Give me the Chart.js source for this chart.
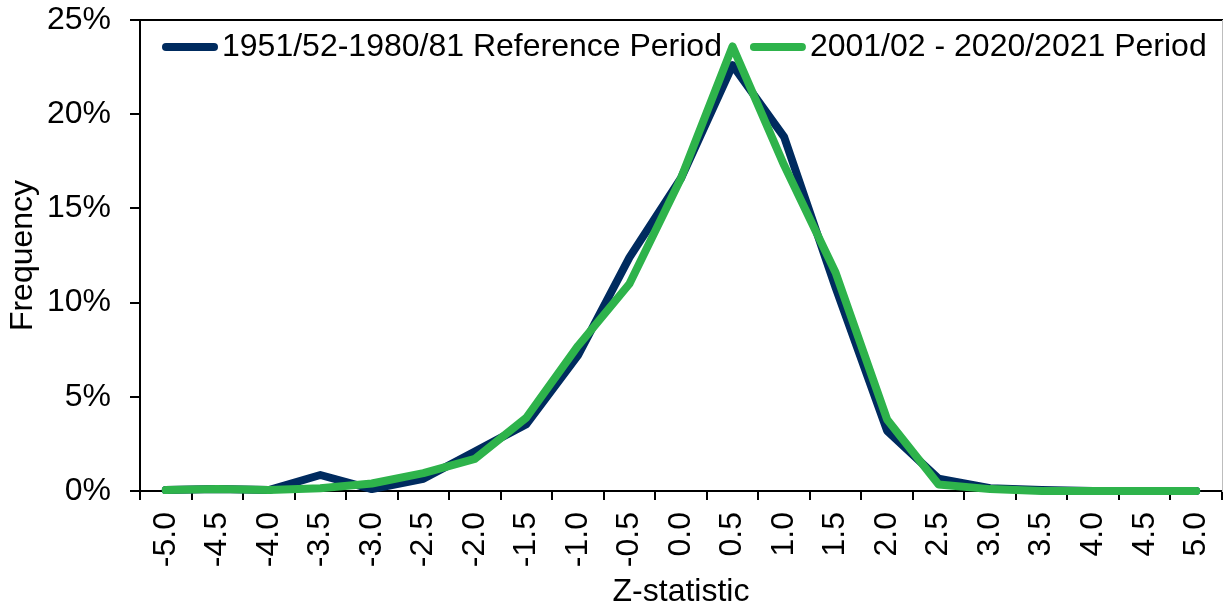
<!DOCTYPE html>
<html>
<head>
<meta charset="utf-8">
<script src="https://cdn.jsdelivr.net/npm/chart.js@4.4.1/dist/chart.umd.min.js"></script>
<style>
  html, body { margin: 0; padding: 0; background: #fff; }
  #wrap { width: 1223px; height: 611px; }
</style>
</head>
<body>
<div id="wrap"><canvas id="zChart" width="1223" height="611"></canvas></div>
<script>
// categorias do eixo x (Z-statistic)
const zLabels = ['-5.0', '-4.5', '-4.0', '-3.5', '-3.0', '-2.5', '-2.0', '-1.5', '-1.0', '-0.5',
    '0.0', '0.5', '1.0', '1.5', '2.0', '2.5', '3.0', '3.5', '4.0', '4.5', '5.0'];

// frequencias (%)
const refPeriod = [0.05, 0.1, 0.05, 0.85, 0.1, 0.65, 2.1, 3.55, 7.2, 12.4, 16.6, 22.6, 18.8, 10.8, 3.2, 0.65, 0.15, 0.05, 0, 0, 0];
const recentPeriod = [0.05, 0.1, 0.05, 0.15, 0.4, 0.95, 1.7, 3.9, 7.7, 11.0, 16.6, 23.6, 17.3, 11.6, 3.8, 0.35, 0.1, 0, 0, 0, 0];

const seriesNames = ['1951/52-1980/81 Reference Period', '2001/02 - 2020/2021 Period'];
const yMax = 25;
const yStep = 5;

const FONT = '"Liberation Sans", Arial, sans-serif';
Chart.defaults.font.family = FONT;
Chart.defaults.font.size = 32;
Chart.defaults.color = '#000';

// legenda desenhada dentro da area do grafico
const inlineLegend = {
    id: 'inlineLegend',
    afterDraw(chart) {
        const {ctx, chartArea} = chart;
        ctx.save();
        ctx.font = '32px ' + FONT;
        ctx.textBaseline = 'middle';
        ctx.fillStyle = '#000';
        let x = chartArea.left + 22;
        const y = chartArea.top + 27;
        chart.data.datasets.forEach(ds => {
            ctx.strokeStyle = ds.borderColor;
            ctx.lineWidth = 8;
            ctx.lineCap = 'round';
            ctx.beginPath();
            ctx.moveTo(x + 4, y);
            ctx.lineTo(x + 52, y);
            ctx.stroke();
            ctx.fillText(ds.label, x + 60, y);
            x += 60 + ctx.measureText(ds.label).width + 28;
        });
        ctx.restore();
    }
};

// tira o padding extra que o Chart.js reserva para os labels
const semPadding = s => {
    s.paddingTop = 0;
    s.paddingBottom = 0;
    s.paddingLeft = 0;
    s.paddingRight = 0;
};

const ctx = document.getElementById('zChart').getContext('2d');
new Chart(ctx, {
    type: 'line',
    data: {
        labels: zLabels,
        datasets: [
            {
                label: seriesNames[0],
                data: refPeriod,
                borderColor: '#002B5F',
                backgroundColor: '#002B5F',
                borderWidth: 8,
                pointRadius: 0,
                tension: 0,
                borderJoinStyle: 'round',
                borderCapStyle: 'round',
                clip: false,
                order: 1
            },
            {
                label: seriesNames[1],
                data: recentPeriod,
                borderColor: '#2EB34B',
                backgroundColor: '#2EB34B',
                borderWidth: 8,
                pointRadius: 0,
                tension: 0,
                borderJoinStyle: 'round',
                borderCapStyle: 'round',
                clip: false,
                order: 0
            }
        ]
    },
    options: {
        responsive: false,
        animation: false,
        layout: {padding: {top: 20, right: 1, left: 0, bottom: 0}},
        plugins: {
            legend: {display: false},
            tooltip: {enabled: false}
        },
        scales: {
            x: {
                type: 'category',
                offset: true,
                grid: {
                    offset: true,
                    drawOnChartArea: false,
                    drawTicks: true,
                    tickLength: 9,
                    color: '#000',
                    lineWidth: 2
                },
                border: {display: true, color: '#000', width: 2},
                ticks: {
                    minRotation: 90,
                    maxRotation: 90,
                    autoSkip: false,
                    padding: 12,
                    color: '#000'
                },
                title: {
                    display: true,
                    text: 'Z-statistic',
                    color: '#000',
                    font: {size: 32},
                    padding: {top: 0, bottom: 0}
                },
                afterFit: s => { s.height = 120; semPadding(s); }
            },
            x2: {
                type: 'category',
                position: 'top',
                grid: {display: false},
                ticks: {display: false},
                border: {display: true, color: '#000', width: 2},
                afterFit: s => { s.height = 0; semPadding(s); }
            },
            y: {
                min: 0,
                max: yMax,
                grid: {
                    drawOnChartArea: false,
                    drawTicks: true,
                    tickLength: 10,
                    color: '#000',
                    lineWidth: 2
                },
                border: {display: true, color: '#000', width: 2},
                ticks: {
                    stepSize: yStep,
                    padding: 19,
                    color: '#000',
                    callback: v => v + '%'
                },
                title: {
                    display: true,
                    text: 'Frequency',
                    color: '#000',
                    font: {size: 32},
                    padding: {top: 4, bottom: 0}
                },
                afterFit: s => { s.width = 140; semPadding(s); }
            },
            y2: {
                position: 'right',
                min: 0,
                max: yMax,
                grid: {display: false},
                ticks: {display: false},
                border: {display: true, color: '#BDBDBD', width: 1},
                afterFit: s => { s.width = 0; semPadding(s); }
            }
        }
    },
    plugins: [inlineLegend]
});
</script>
</body>
</html>
